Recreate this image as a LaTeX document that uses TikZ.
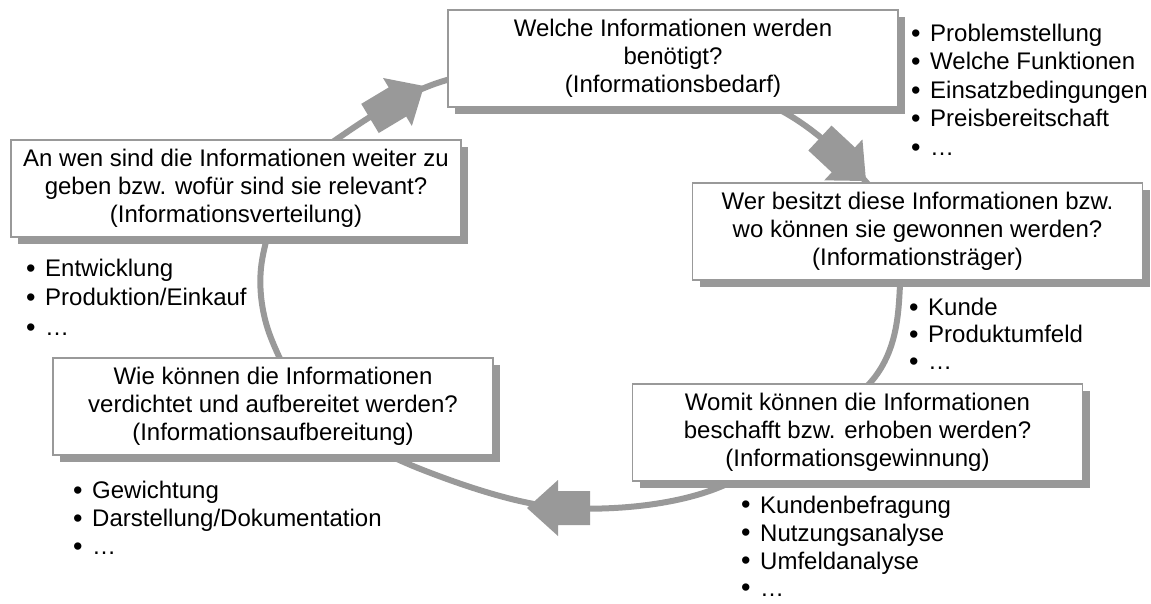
\documentclass[tikz,border=0pt]{standalone}
\usepackage{fontspec}
\setmainfont{Liberation Sans}
\usetikzlibrary{shadows}
\definecolor{cyclegray}{HTML}{999999}
\newcommand{\boxfont}{\fontsize{24}{27.8}\selectfont}
\newcommand{\itm}[1]{\makebox[19pt][l]{\raisebox{-0.5pt}{\fontsize{27}{27}\selectfont •}}#1}
\begin{document}
\begin{tikzpicture}[x=1pt,y=-1pt,
  ring/.style={draw=cyclegray, line width=6pt},
  cycarrow/.style={fill=cyclegray, draw=none},
  stage/.style={draw=cyclegray, line width=1.8pt, fill=white,
    minimum width=450pt, minimum height=97pt, inner sep=0pt,
    align=center, font=\boxfont,
    drop shadow={shadow xshift=7pt, shadow yshift=-7pt, fill=cyclegray, opacity=1}},
  item/.style={anchor=base west, inner sep=0pt, font=\boxfont}]
\useasboundingbox (0,0) rectangle (1151,603);

% the closed information cycle
\draw[ring] plot[smooth cycle, tension=0.55] coordinates {
  (337,139) (447,80) (615,62) (780,110) (880,200) (900,285)
  (870,383) (720,487) (565,508) (423,470) (318,412) (271,338)
  (261,268) (286,190)};

% block arrows on the cycle: tip at origin, pointing along +x
\newcommand{\cyclearrow}[3]{%
  \begin{scope}[shift={(#1,#2)}, rotate=#3]
    \fill[cycarrow] (0,0) -- (-31,28) -- (-31,17) -- (-63,17) -- (-63,-17)
      -- (-31,-17) -- (-31,-28) -- cycle;
  \end{scope}}
\cyclearrow{424}{86}{31}
\cyclearrow{866}{181}{-43}
\cyclearrow{527}{508}{180}

% stages
\node[stage] (bedarf) at (673,58.5)
  {Welche Informationen werden\\benötigt?\\(Informationsbedarf)};
\node[stage] (traeger) at (917.5,231.5)
  {Wer besitzt diese Informationen bzw.\\wo können sie gewonnen werden?\\(Informationsträger)};
\node[stage] (gewinnung) at (857.5,432.5)
  {Womit können die Informationen\\beschafft bzw. erhoben werden?\\(Informationsgewinnung)};
\node[stage, minimum width=440pt] (aufber) at (273,406.5)
  {Wie können die Informationen\\verdichtet und aufbereitet werden?\\(Informationsaufbereitung)};
\node[stage] (verteil) at (236,188.5)
  {An wen sind die Informationen weiter zu\\geben bzw. wofür sind sie relevant?\\(Informationsverteilung)};

% bullet lists
\node[item] (b1a) at (911,41.5) {\itm{Problemstellung}};
\node[item] (b1b) at (911,69.5) {\itm{Welche Funktionen}};
\node[item] (b1c) at (911,98.5) {\itm{Einsatzbedingungen}};
\node[item] (b1d) at (911,126.5) {\itm{Preisbereitschaft}};
\node[item] (b1e) at (911,155.5) {\itm{…}};

\node[item] (b2a) at (909,315.5) {\itm{Kunde}};
\node[item] (b2b) at (909,342.5) {\itm{Produktumfeld}};
\node[item] (b2c) at (909,369.5) {\itm{…}};

\node[item] (b3a) at (741,513) {\itm{Kundenbefragung}};
\node[item] (b3b) at (741,541) {\itm{Nutzungsanalyse}};
\node[item] (b3c) at (741,569) {\itm{Umfeldanalyse}};
\node[item] (b3d) at (741,596) {\itm{…}};

\node[item] (b4a) at (73,498.5) {\itm{Gewichtung}};
\node[item] (b4b) at (73,526.5) {\itm{Darstellung/Dokumentation}};
\node[item] (b4c) at (73,554.5) {\itm{…}};

\node[item] (b5a) at (26,276.5) {\itm{Entwicklung}};
\node[item] (b5b) at (26,305.5) {\itm{Produktion/Einkauf}};
\node[item] (b5c) at (26,335.5) {\itm{…}};
\end{tikzpicture}
\end{document}
